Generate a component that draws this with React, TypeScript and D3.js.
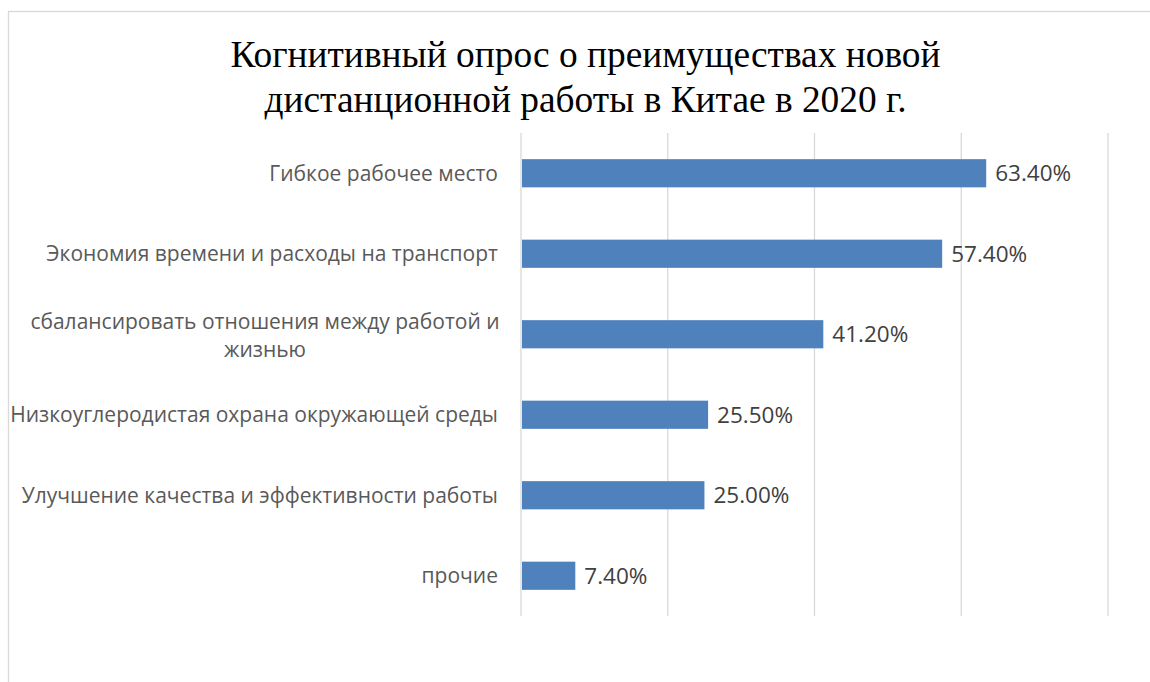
import React, { useEffect } from 'react';
import * as d3 from 'd3';

const categories = [
    'Гибкое рабочее место',
    'Экономия времени и расходы на транспорт',
    'сбалансировать отношения между работой и|жизнью',
    'Низкоуглеродистая охрана окружающей среды',
    'Улучшение качества и эффективности работы',
    'прочие',
];
const values = [63.4, 57.4, 41.2, 25.5, 25.0, 7.4];
const gridTicks = [0, 20, 40, 60, 80];
const titleLines = [
    'Когнитивный опрос о преимуществах новой',
    'дистанционной работы в Китае в 2020 г.',
];

const width = 1150;
const height = 682;
const margin = { top: 133, right: 42, bottom: 66, left: 521 };

const App: React.FC = () => {
    useEffect(() => {
        document.body.style.margin = '0';
        document.body.style.overflow = 'hidden';
    }, []);

    const x = d3
        .scaleLinear()
        .domain([0, 80])
        .range([margin.left, width - margin.right]);

    const y = d3
        .scaleBand<string>()
        .domain(categories)
        .range([margin.top, height - margin.bottom])
        .paddingInner(0.65)
        .paddingOuter(0.325);

    const plotTop = margin.top;
    const plotBottom = height - margin.bottom;
    const labelFont = '"Open Sans", sans-serif';

    return (
        <svg width={width} height={height} style={{ display: 'block' }}>
            <rect x={0} y={0} width={width} height={height} fill="#fff" />
            <rect
                x={8.5}
                y={11.5}
                width={width + 10}
                height={height + 10}
                fill="none"
                stroke="#d9d9d9"
                strokeWidth={1.3}
            />

            {/* title */}
            <g
                fontFamily='"Liberation Serif", "Times New Roman", serif'
                fontSize={37.4}
                fill="#000"
                textAnchor="middle"
            >
                {titleLines.map((t, i) => (
                    <text key={i} x={585.5} y={67 + i * 45}>
                        {t}
                    </text>
                ))}
            </g>

            {/* gridlines */}
            {gridTicks.map((t) => (
                <line
                    key={t}
                    x1={x(t)}
                    x2={x(t)}
                    y1={plotTop}
                    y2={plotBottom}
                    stroke="#d9d9d9"
                    strokeWidth={1.3}
                />
            ))}

            {/* bars */}
            {categories.map((c, i) => (
                <rect
                    key={c}
                    x={x(0) + 1}
                    y={y(c)}
                    width={x(values[i]) - x(0) - 1}
                    height={y.bandwidth()}
                    fill="#4f81bd"
                />
            ))}

            {/* category labels */}
            <g fontFamily={labelFont} fontSize={21} fill="#595959">
                {categories.map((c) => {
                    const cy = (y(c) ?? 0) + y.bandwidth() / 2;
                    const lines = c.split('|');
                    if (lines.length === 1) {
                        return (
                            <text key={c} x={x(0) - 23} y={cy} dy="0.35em" textAnchor="end">
                                {c}
                            </text>
                        );
                    }
                    // wrapped label: both lines centred on the same axis
                    const mid = x(0) - 256;
                    return (
                        <g key={c} textAnchor="middle">
                            <text x={mid} y={cy - 12.5} dy="0.35em">
                                {lines[0]}
                            </text>
                            <text x={mid} y={cy + 15.5} dy="0.35em">
                                {lines[1]}
                            </text>
                        </g>
                    );
                })}
            </g>

            {/* value labels */}
            <g fontFamily={labelFont} fontSize={22.5} fill="#404040">
                {categories.map((c, i) => (
                    <text
                        key={c}
                        x={x(values[i]) + 9}
                        y={(y(c) ?? 0) + y.bandwidth() / 2}
                        dy="0.35em"
                    >
                        {values[i].toFixed(2) + '%'}
                    </text>
                ))}
            </g>
        </svg>
    );
};

export default App;
